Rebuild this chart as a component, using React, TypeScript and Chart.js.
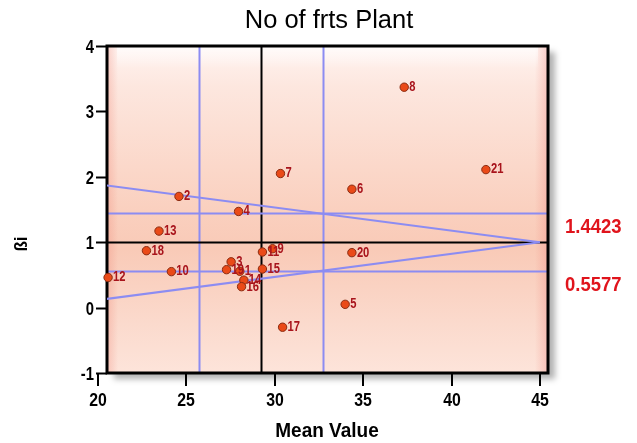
import React, { useEffect, useRef } from "react";
import { Chart, registerables } from "chart.js";

Chart.register(...registerables);

const genotypes = ["1","2","3","4","5","6","7","8","9","10","11","12","13","14","15","16","17","18","19","20","21"];
const meanValues = [28.02, 24.58, 27.53, 27.95, 33.98, 34.36, 30.32, 37.32, 29.87, 24.15, 29.30, 20.57, 23.45, 28.25, 29.30, 28.12, 30.44, 22.74, 27.27, 34.36, 41.94];
const betaValues = [0.556, 1.70, 0.70, 1.47, 0.05, 1.81, 2.05, 3.37, 0.90, 0.55, 0.85, 0.46, 1.17, 0.42, 0.59, 0.32, -0.30, 0.87, 0.58, 0.84, 2.11];
const xTicks = [20, 25, 30, 35, 40, 45];
const yTicks = [-1, 0, 1, 2, 3, 4];
const upperLimit = 1.4423;
const lowerLimit = 0.5577;
const bandHalfWidth = 3.49;
const xMin = 20;
const xMax = 45;

const FONT = '"Liberation Sans", Arial, sans-serif';
const FRAME_DX = 9;
const FRAME_DR = 8;

const meanX = meanValues.reduce((a, b) => a + b, 0) / meanValues.length;

function txt(ctx: CanvasRenderingContext2D, s: string, x: number, y: number, sx: number) {
  ctx.save();
  ctx.translate(x, y);
  ctx.scale(sx, 1);
  ctx.fillText(s, 0, 0);
  ctx.restore();
}

export default function App() {
  const ref = useRef<HTMLCanvasElement | null>(null);
  useEffect(() => {
    const canvas = ref.current;
    if (!canvas) return;

    const framePlugin = {
      id: "frame",
      beforeDatasetsDraw(chart: any) {
        const { ctx, chartArea: a, scales } = chart;
        const x = scales.x, y = scales.y;
        const L = a.left + FRAME_DX, R = a.right + FRAME_DR, T = a.top, B = a.bottom;
        ctx.save();
        ctx.shadowColor = "rgba(0,0,0,0.3)";
        ctx.shadowOffsetX = 7;
        ctx.shadowOffsetY = 6;
        ctx.shadowBlur = 6;
        const g = ctx.createLinearGradient(0, T, 0, B);
        g.addColorStop(0, "#fff4f1");
        g.addColorStop(0.12, "#fde7df");
        g.addColorStop(0.5, "#fad0bf");
        g.addColorStop(0.62, "#f9cab7");
        g.addColorStop(0.85, "#fbdacd");
        g.addColorStop(1, "#fde4da");
        ctx.fillStyle = g;
        ctx.fillRect(L, T, R - L, B - T);
        ctx.restore();
        ctx.save();
        const h = ctx.createLinearGradient(L, 0, R, 0);
        h.addColorStop(0, "rgba(238,130,115,0.32)");
        h.addColorStop(0.025, "rgba(238,130,115,0.0)");
        h.addColorStop(0.97, "rgba(238,130,115,0.0)");
        h.addColorStop(1, "rgba(238,130,130,0.35)");
        ctx.fillStyle = h;
        ctx.fillRect(L, T, R - L, B - T);
        const v = ctx.createLinearGradient(0, T, 0, T + 22);
        v.addColorStop(0, "rgba(255,255,255,0.7)");
        v.addColorStop(1, "rgba(255,255,255,0)");
        ctx.fillStyle = v;
        ctx.fillRect(L + 10, T, R - L - 20, 22);
        ctx.lineWidth = 2;
        const vlines: [number, string][] = [
          [meanX - bandHalfWidth, "#8c8cf2"],
          [meanX + bandHalfWidth, "#8c8cf2"],
          [meanX, "#000000"],
        ];
        for (const [val, col] of vlines) {
          const px = Math.round(x.getPixelForValue(val)) + 0.5;
          ctx.strokeStyle = col;
          ctx.beginPath();
          ctx.moveTo(px, T);
          ctx.lineTo(px, B);
          ctx.stroke();
        }
        const hlines: [number, string][] = [
          [upperLimit, "#8c8cf2"],
          [lowerLimit, "#8c8cf2"],
          [1, "#000000"],
        ];
        for (const [val, col] of hlines) {
          const py = Math.round(y.getPixelForValue(val)) + 0.5;
          ctx.strokeStyle = col;
          ctx.beginPath();
          ctx.moveTo(L, py);
          ctx.lineTo(R, py);
          ctx.stroke();
        }
        ctx.strokeStyle = "#000";
        ctx.lineWidth = 3;
        ctx.strokeRect(L, T, R - L, B - T);
        ctx.restore();
      },
      afterDatasetsDraw(chart: any) {
        const { ctx, scales } = chart;
        ctx.save();
        ctx.font = "bold 14px " + FONT;
        ctx.fillStyle = "#a8141c";
        ctx.textAlign = "left";
        ctx.textBaseline = "middle";
        genotypes.forEach((lab, i) => {
          const px = scales.x.getPixelForValue(meanValues[i]);
          const py = scales.y.getPixelForValue(betaValues[i]);
          txt(ctx, lab, px + 5, py, 0.8);
        });
        ctx.restore();
      },
      afterDraw(chart: any) {
        const { ctx, chartArea: a, scales } = chart;
        const L = a.left + FRAME_DX;
        ctx.save();
        ctx.strokeStyle = "#000";
        ctx.lineWidth = 2;
        ctx.fillStyle = "#000";
        ctx.font = "bold 19px " + FONT;
        ctx.textAlign = "right";
        ctx.textBaseline = "middle";
        for (const t of yTicks) {
          const py = Math.round(scales.y.getPixelForValue(t)) + 0.5;
          ctx.beginPath();
          ctx.moveTo(a.left - 2, py);
          ctx.lineTo(L, py);
          ctx.stroke();
          txt(ctx, String(t), a.left - 4, py + 1, 0.78);
        }
        ctx.font = "bold 18px " + FONT;
        ctx.textAlign = "center";
        ctx.textBaseline = "top";
        for (const t of xTicks) {
          const px = Math.round(scales.x.getPixelForValue(t));
          ctx.beginPath();
          ctx.moveTo(px, a.bottom);
          ctx.lineTo(px, a.bottom + 13);
          ctx.stroke();
          txt(ctx, String(t), px, a.bottom + 19, 0.88);
        }
        ctx.font = "bold 20px " + FONT;
        txt(ctx, "Mean Value", (a.left + a.right) / 2 + 8, a.bottom + 48, 0.95);
        ctx.save();
        ctx.translate(22, 244);
        ctx.rotate(-Math.PI / 2);
        ctx.textBaseline = "middle";
        ctx.font = "bold 19px " + FONT;
        txt(ctx, "ßi", 0, 0, 0.9);
        ctx.restore();
        ctx.font = "26px " + FONT;
        ctx.textBaseline = "middle";
        txt(ctx, "No of frts Plant", 329, 21, 0.98);
        ctx.fillStyle = "#e0141c";
        ctx.font = "bold 21px " + FONT;
        ctx.textAlign = "left";
        txt(ctx, upperLimit.toFixed(4), 565, scales.y.getPixelForValue(upperLimit) + 14, 0.88);
        txt(ctx, lowerLimit.toFixed(4), 565, scales.y.getPixelForValue(lowerLimit) + 14, 0.88);
        ctx.restore();
      },
    };

    const diagUpper = [
      { x: xMin, y: 1 + 2 * (upperLimit - 1) },
      { x: xMax, y: 1 },
    ];
    const diagLower = [
      { x: xMin, y: 1 - 2 * (1 - lowerLimit) },
      { x: xMax, y: 1 },
    ];

    const chart = new Chart(canvas, {
      type: "scatter",
      data: {
        datasets: [
          {
            data: meanValues.map((m, i) => ({ x: m, y: betaValues[i] })),
            backgroundColor: "#ea4a18",
            borderColor: "#8a2c12",
            borderWidth: 1,
            pointRadius: 4.2,
            clip: { left: -FRAME_DX + 4, top: 4, right: 4, bottom: 4 },
          } as any,
          {
            type: "line",
            data: diagUpper,
            borderColor: "#8c8cf2",
            borderWidth: 2,
            pointRadius: 0,
            clip: { left: -FRAME_DX, top: 0, right: 0, bottom: 0 },
          } as any,
          {
            type: "line",
            data: diagLower,
            borderColor: "#8c8cf2",
            borderWidth: 2,
            pointRadius: 0,
            clip: { left: -FRAME_DX, top: 0, right: 0, bottom: 0 },
          } as any,
        ],
      },
      options: {
        animation: false,
        responsive: false,
        devicePixelRatio: 1,
        layout: { padding: { left: 98, right: 97, top: 46, bottom: 70 } },
        plugins: { legend: { display: false }, tooltip: { enabled: false }, title: { display: false } },
        scales: {
          x: { type: "linear", min: xMin, max: xMax, display: false },
          y: { type: "linear", min: -1, max: 4, display: false },
        },
      },
      plugins: [framePlugin],
    });
    return () => chart.destroy();
  }, []);

  return (
    <div style={{ position: "absolute", left: 0, top: 0, width: 637, height: 443, background: "#fff" }}>
      <canvas ref={ref} width={637} height={443} style={{ width: 637, height: 443, display: "block" }} />
    </div>
  );
}
